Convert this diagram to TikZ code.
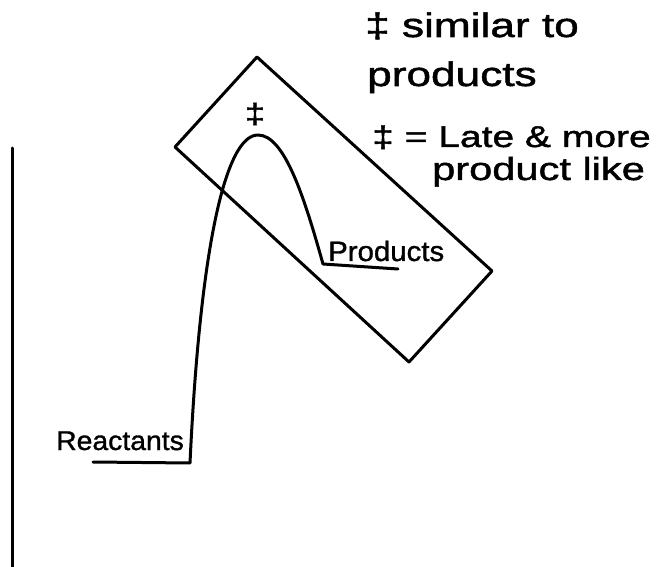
\documentclass[tikz,border=0pt]{standalone}
\usepackage{fontspec}
\newfontfamily\hand[FakeStretch=1.3,FakeBold=1.5]{Liberation Sans}
\newfontfamily\handlbl[FakeStretch=1.05,FakeBold=1.2]{Liberation Sans}
\begin{document}
\begin{tikzpicture}[x=1pt,y=-1pt,
  ink/.style={line width=3pt,line cap=round,line join=round},
  lbl/.style={inner sep=0pt,anchor=base west}]
\useasboundingbox (0,0) rectangle (665,567);
% energy axis
\coordinate (axtop) at (12,148);
\coordinate (axbot) at (12,567);
\draw[ink] (axtop) -- (axbot);
% box around transition state and products
\coordinate (b1) at (257,57);
\coordinate (b2) at (492,271);
\coordinate (b3) at (409,362);
\coordinate (b4) at (175,147);
\draw[ink] (b1) -- (b2) -- (b3) -- (b4) -- cycle;
% labels
\node[lbl,font=\handlbl\fontsize{27}{27}\selectfont] (reac) at (56,450) {Reactants};
\node[lbl,font=\handlbl\fontsize{28}{28}\selectfont] (prod) at (328,261) {Products};
\node[inner sep=0pt,font=\hand\fontsize{28}{28}\selectfont] (ts) at (255,114) {‡};
% energy profile
\coordinate (rend) at (93,462);
\coordinate (rcorner) at (190,463);
\coordinate (peak) at (258,135);
\coordinate (pcorner) at (323,264);
\coordinate (pend) at (398,269);
\draw[ink] (rend) -- (rcorner)
  .. controls (200,250) and (225,135) .. (peak)
  .. controls (285,135) and (305,200) .. (pcorner) -- (pend);
% notes
\node[lbl,font=\hand\fontsize{34}{34}\selectfont] (n1) at (365,37) {‡ similar to};
\node[lbl,font=\hand\fontsize{34}{34}\selectfont] (n2) at (367,86) {products};
\node[lbl,font=\hand\fontsize{30}{30}\selectfont] (n3) at (372,147) {‡ = Late \& more};
\node[lbl,font=\hand\fontsize{32}{32}\selectfont] (n4) at (432,180) {product like};
\end{tikzpicture}
\end{document}
